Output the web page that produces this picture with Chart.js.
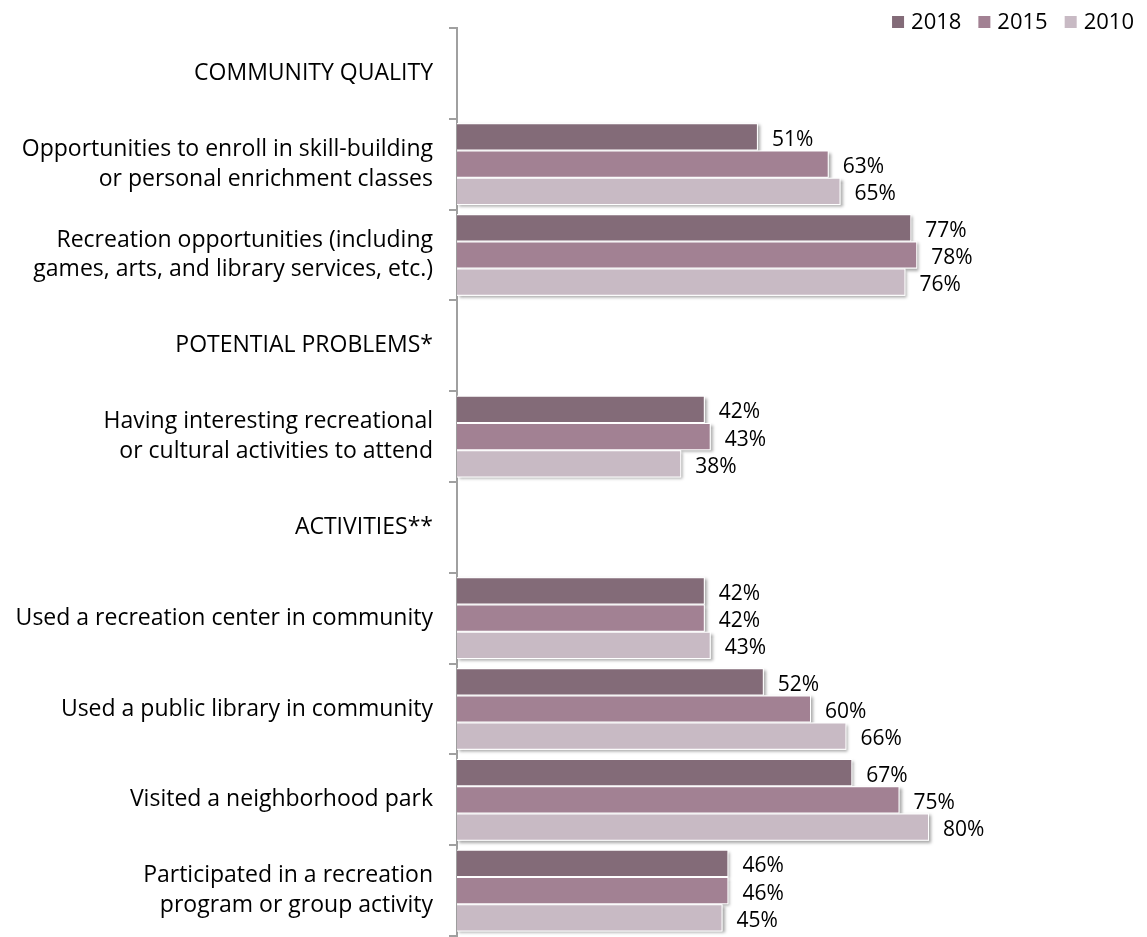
<!DOCTYPE html>
<html>
<head>
<meta charset="utf-8">
<script src="https://cdn.jsdelivr.net/npm/chart.js@4.4.1/dist/chart.umd.min.js"></script>
<style>
  html, body { margin: 0; padding: 0; background: #fff; }
  #wrap { width: 1147px; height: 937px; position: relative; }
</style>
</head>
<body>
<div id="wrap"><canvas id="grafico"></canvas></div>
<script>
// DATOS
const categorias = [
    "COMMUNITY QUALITY",
    ["Opportunities to enroll in skill-building", "or personal enrichment classes"],
    ["Recreation opportunities (including", "games, arts, and library services, etc.)"],
    "POTENTIAL PROBLEMS*",
    ["Having interesting recreational", "or cultural activities to attend"],
    "ACTIVITIES**",
    "Used a recreation center in community",
    "Used a public library in community",
    "Visited a neighborhood park",
    ["Participated in a recreation", "program or group activity"]
];

const anios = ["2018", "2015", "2010"];

const valores2018 = [null, 51, 77, null, 42, null, 42, 52, 67, 46];
const valores2015 = [null, 63, 78, null, 43, null, 42, 60, 75, 46];
const valores2010 = [null, 65, 76, null, 38, null, 43, 66, 80, 45];

const colores = ["#836b78", "#a28193", "#c8bac4"];

const FUENTE = "'Open Sans', Lato, sans-serif";

// sombra gris detras de cada barra
const sombraBarras = {
    id: 'sombraBarras',
    beforeDatasetsDraw(chart){
        const ctx = chart.ctx;
        ctx.save();
        ctx.shadowColor = 'rgba(0,0,0,0.35)';
        ctx.shadowBlur = 3;
        ctx.shadowOffsetX = 2;
        ctx.shadowOffsetY = 2;
        ctx.fillStyle = '#ffffff';
        chart.data.datasets.forEach((ds, i) => {
            chart.getDatasetMeta(i).data.forEach((bar, j) => {
                if(ds.data[j] == null) return;
                let x0 = Math.min(bar.base, bar.x);
                let w = Math.abs(bar.x - bar.base);
                ctx.fillRect(x0, bar.y - bar.height / 2, w, bar.height);
            });
        });
        ctx.restore();
    }
};

// porcentajes al final de cada barra
const etiquetas = {
    id: 'etiquetas',
    afterDatasetsDraw(chart){
        const ctx = chart.ctx;
        ctx.save();
        ctx.font = "21px " + FUENTE;
        ctx.fillStyle = '#000';
        ctx.textAlign = 'left';
        ctx.textBaseline = 'middle';
        chart.data.datasets.forEach((ds, i) => {
            chart.getDatasetMeta(i).data.forEach((bar, j) => {
                let v = ds.data[j];
                if(v == null) return;
                ctx.fillText(v + '%', bar.x + 14, bar.y + 3);
            });
        });
        ctx.restore();
    }
};

// leyenda arriba a la derecha
const leyenda = {
    id: 'leyenda',
    afterDraw(chart){
        const ctx = chart.ctx;
        ctx.save();
        ctx.font = "22px " + FUENTE;
        ctx.textBaseline = 'middle';
        ctx.textAlign = 'left';
        let x = 1134;
        let y = 22;
        for(let i = anios.length - 1; i >= 0; i--){
            let w = ctx.measureText(anios[i]).width;
            x -= w;
            ctx.fillStyle = '#000';
            ctx.fillText(anios[i], x, y + 1);
            x -= 19;
            ctx.fillStyle = colores[i];
            ctx.fillRect(x, y - 6, 12, 12);
            x -= 17;
        }
        ctx.restore();
    }
};

const chart = new Chart(document.getElementById('grafico'), {
    type: 'bar',
    data: {
        labels: categorias,
        datasets: [
            { label: anios[0], data: valores2018, backgroundColor: colores[0] },
            { label: anios[1], data: valores2015, backgroundColor: colores[1] },
            { label: anios[2], data: valores2010, backgroundColor: colores[2] }
        ].map(d => Object.assign(d, {
            borderColor: '#ffffff',
            borderWidth: 1,
            categoryPercentage: 0.9,
            barPercentage: 1
        }))
    },
    options: {
        indexAxis: 'y',
        responsive: true,
        maintainAspectRatio: false,
        animation: false,
        layout: { autoPadding: false, padding: { top: 28, right: 100, bottom: 1, left: 0 } },
        plugins: {
            legend: { display: false },
            tooltip: { enabled: false }
        },
        scales: {
            x: {
                display: false,
                min: 0,
                max: 100
            },
            y: {
                afterFit: s => {
                    s.width = 457;
                    s.paddingTop = 0;
                    s.paddingBottom = 0;
                },
                grid: {
                    offset: true,
                    drawOnChartArea: false,
                    tickLength: 8,
                    color: '#a0a0a0',
                    lineWidth: 2
                },
                border: { color: '#a0a0a0', width: 2 },
                ticks: {
                    padding: 16,
                    color: '#000',
                    font: { family: FUENTE, size: 23, lineHeight: 1.3 }
                }
            }
        }
    },
    plugins: [sombraBarras, etiquetas, leyenda]
});
</script>
</body>
</html>
